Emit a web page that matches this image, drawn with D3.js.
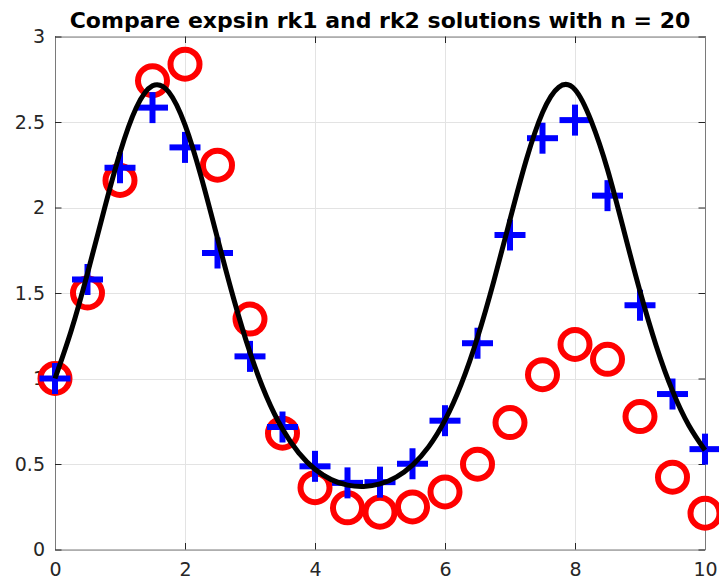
<!DOCTYPE html>
<html>
<head>
<meta charset="utf-8">
<script src="https://cdn.jsdelivr.net/npm/d3@7"></script>
<style>
  html, body { margin: 0; padding: 0; background: #fff; }
  svg { display: block; }
</style>
</head>
<body>
<svg id="chart" width="719" height="579"></svg>
<script>
// Time steps (h = 0.5, n = 20)
const tSteps = [0, 0.5, 1, 1.5, 2, 2.5, 3, 3.5, 4, 4.5, 5, 5.5, 6, 6.5, 7, 7.5, 8, 8.5, 9, 9.5, 10];

// rk1 (Euler) solution
const rk1Values = [1.000000, 1.500000, 2.158188, 2.741225, 2.838179, 2.247630, 1.347292,
  0.680388, 0.361812, 0.243564, 0.217893, 0.248797, 0.336954, 0.498721, 0.742243,
  1.022032, 1.199169, 1.111929, 0.777231, 0.423152, 0.212174];

// rk2 (Heun) solution
const rk2Values = [1.000000, 1.579094, 2.232430, 2.584121, 2.351467, 1.733857, 1.129360,
  0.716323, 0.486375, 0.389641, 0.393827, 0.501425, 0.753274, 1.206293, 1.839180,
  2.405282, 2.511064, 2.069295, 1.428389, 0.909161, 0.586887];

// Exact solution exp(sin t), sampled every 0.25
const exactT = [0, 0.25, 0.5, 0.75, 1, 1.25, 1.5, 1.75, 2, 2.25, 2.5, 2.75, 3, 3.25, 3.5, 3.75,
  4, 4.25, 4.5, 4.75, 5, 5.25, 5.5, 5.75, 6, 6.25, 6.5, 6.75, 7, 7.25, 7.5, 7.75,
  8, 8.25, 8.5, 8.75, 9, 9.25, 9.5, 9.75, 10];
const exactValues = [1.000000, 1.280696, 1.615147, 1.977117, 2.319777, 2.583085, 2.711481,
  2.675100, 2.482589, 2.177273, 1.819337, 1.464716, 1.151563, 0.897442, 0.704136,
  0.564644, 0.469165, 0.408613, 0.376239, 0.368139, 0.383305, 0.423614, 0.493841,
  0.601530, 0.756226, 0.967365, 1.240011, 1.568381, 1.928971, 2.277503, 2.554867,
  2.703642, 2.689506, 2.504987, 2.222176, 1.867730, 1.510013, 1.190445, 0.927603,
  0.726804, 0.580410];

const xTicks = [0, 2, 4, 6, 8, 10];
const yTicks = [0, 0.5, 1, 1.5, 2, 2.5, 3];
const yTickLabels = ["0", "0.5", "1", "1.5", "2", "2.5", "3"];
const titleText = "Compare expsin rk1 and rk2 solutions with n = 20";

const svg = d3.select("#chart");
const plotLeft = 55, plotRight = 705, plotTop = 36.5, plotBottom = 549.5;

const x = d3.scaleLinear().domain([0, 10]).range([plotLeft, plotRight]);
const y = d3.scaleLinear().domain([0, 3]).range([plotBottom, plotTop]);

const font = "'DejaVu Sans', sans-serif";
const axisColor = "#7a7a7a";
const textColor = "#262626";

// grid lines
const grid = svg.append("g");
grid.selectAll("line.gx").data(xTicks).join("line")
  .attr("x1", d => Math.round(x(d)) + 0.5).attr("x2", d => Math.round(x(d)) + 0.5)
  .attr("y1", plotTop).attr("y2", plotBottom)
  .attr("stroke", "#e3e3e3").attr("stroke-width", 1);
grid.selectAll("line.gy").data(yTicks).join("line")
  .attr("y1", d => Math.round(y(d)) + 0.5).attr("y2", d => Math.round(y(d)) + 0.5)
  .attr("x1", plotLeft).attr("x2", plotRight)
  .attr("stroke", "#e3e3e3").attr("stroke-width", 1);

// axes (box with inward ticks on all sides)
const tickLen = 6.5;
const xAxisB = d3.axisBottom(x).tickValues(xTicks).tickSizeInner(-tickLen).tickSizeOuter(0).tickPadding(13);
const xAxisT = d3.axisTop(x).tickValues(xTicks).tickSizeInner(-tickLen).tickSizeOuter(0).tickFormat("");
const yAxisL = d3.axisLeft(y).tickValues(yTicks).tickSizeInner(-tickLen).tickSizeOuter(0).tickPadding(10)
  .tickFormat((d, i) => yTickLabels[i]);
const yAxisR = d3.axisRight(y).tickValues(yTicks).tickSizeInner(-tickLen).tickSizeOuter(0).tickFormat("");

function styleAxis(g) {
  g.select(".domain").attr("stroke", axisColor).attr("stroke-width", 1);
  g.selectAll(".tick line").attr("stroke", "#262626").attr("stroke-width", 1);
  g.selectAll(".tick text").attr("fill", textColor).attr("font-family", font).attr("font-size", 19);
}
svg.append("g").attr("transform", `translate(0,${plotBottom})`).call(xAxisB).call(styleAxis);
svg.append("g").attr("transform", `translate(0,${plotTop})`).call(xAxisT).call(styleAxis);
svg.append("g").attr("transform", `translate(${plotLeft},0)`).call(yAxisL).call(styleAxis);
svg.append("g").attr("transform", `translate(${plotRight},0)`).call(yAxisR).call(styleAxis);

// title
svg.append("text")
  .attr("x", (plotLeft + plotRight) / 2).attr("y", 27.5)
  .attr("text-anchor", "middle")
  .attr("font-family", font).attr("font-weight", "bold").attr("font-size", 22)
  .attr("fill", "#000")
  .text(titleText);

// rk1: red circles
svg.append("g").selectAll("circle").data(tSteps).join("circle")
  .attr("cx", d => x(d)).attr("cy", (d, i) => y(rk1Values[i]))
  .attr("r", 14.5)
  .attr("fill", "none").attr("stroke", "#ff0000").attr("stroke-width", 6);

// rk2: blue plus signs
const plusHalf = 15.5;
const plus = svg.append("g").selectAll("g").data(tSteps).join("g")
  .attr("transform", (d, i) => `translate(${x(d)},${y(rk2Values[i])})`);
plus.append("line").attr("x1", -plusHalf).attr("x2", plusHalf).attr("y1", 0).attr("y2", 0)
  .attr("stroke", "#0000ff").attr("stroke-width", 6);
plus.append("line").attr("y1", -plusHalf).attr("y2", plusHalf).attr("x1", 0).attr("x2", 0)
  .attr("stroke", "#0000ff").attr("stroke-width", 6);

// exact solution: black curve
const line = d3.line()
  .x((d, i) => x(exactT[i]))
  .y(d => y(d))
  .curve(d3.curveNatural);
svg.append("path")
  .datum(exactValues)
  .attr("d", line)
  .attr("fill", "none").attr("stroke", "#000").attr("stroke-width", 5)
  .attr("stroke-linejoin", "round");
</script>
</body>
</html>
